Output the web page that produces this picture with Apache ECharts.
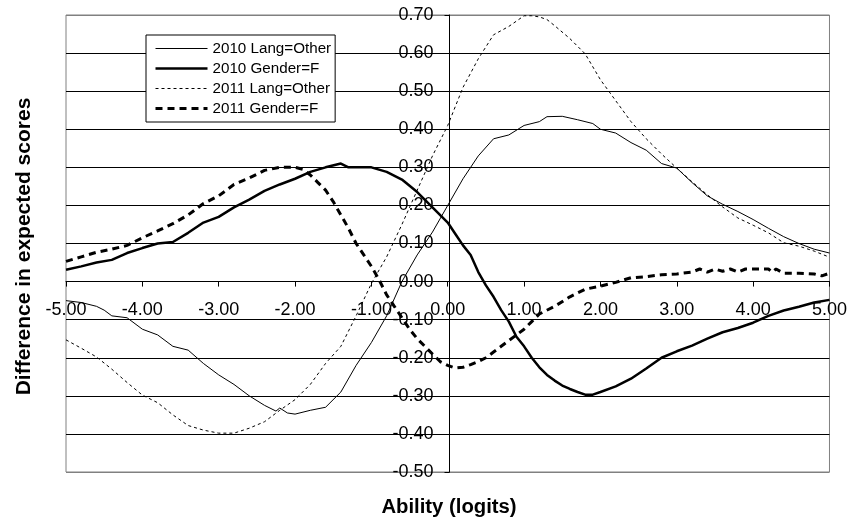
<!DOCTYPE html>
<html>
<head>
<meta charset="utf-8">
<script src="https://cdn.jsdelivr.net/npm/echarts@6/dist/echarts.min.js"></script>
<style>
  html, body { margin: 0; padding: 0; background: #fff; }
  #chart { width: 850px; height: 523px; }
</style>
</head>
<body>
<div id="chart"></div>
<script>
// Difference in expected scores by ability (logits), per group and year

const seriesNames = ['2010 Lang=Other', '2010 Gender=F', '2011 Lang=Other', '2011 Gender=F'];

// 2010 Lang=Other
const ability2010Lang = [-5.0, -4.8, -4.6, -4.5, -4.4, -4.2, -4.0, -3.8, -3.6, -3.4, -3.2, -3.0, -2.8, -2.6, -2.4, -2.25, -2.2, -2.1, -2.0, -1.8, -1.6, -1.4, -1.2, -1.0, -0.8, -0.6, -0.4, -0.2, 0.0, 0.2, 0.4, 0.6, 0.8, 1.0, 1.2, 1.3, 1.5, 1.7, 1.9, 2.0, 2.2, 2.4, 2.6, 2.8, 3.0, 3.2, 3.4, 3.6, 3.8, 4.0, 4.2, 4.4, 4.6, 4.8, 5.0];
const diff2010Lang = [-0.050, -0.055, -0.065, -0.075, -0.090, -0.095, -0.125, -0.140, -0.170, -0.180, -0.215, -0.245, -0.270, -0.300, -0.325, -0.340, -0.332, -0.345, -0.348, -0.338, -0.330, -0.290, -0.220, -0.160, -0.090, 0.000, 0.070, 0.130, 0.200, 0.270, 0.330, 0.375, 0.385, 0.410, 0.420, 0.433, 0.434, 0.425, 0.415, 0.400, 0.390, 0.365, 0.345, 0.310, 0.298, 0.260, 0.225, 0.203, 0.184, 0.163, 0.140, 0.118, 0.100, 0.085, 0.075];

// 2010 Gender=F
const ability2010Gender = [-5.0, -4.8, -4.6, -4.4, -4.2, -4.0, -3.8, -3.6, -3.4, -3.2, -3.0, -2.8, -2.6, -2.4, -2.2, -2.0, -1.8, -1.6, -1.4, -1.3, -1.2, -1.0, -0.8, -0.6, -0.4, -0.2, 0.0, 0.1, 0.2, 0.3, 0.4, 0.5, 0.6, 0.7, 0.8, 0.9, 1.0, 1.1, 1.2, 1.3, 1.4, 1.5, 1.6, 1.7, 1.8, 1.9, 2.0, 2.2, 2.4, 2.6, 2.8, 3.0, 3.2, 3.4, 3.6, 3.8, 4.0, 4.2, 4.4, 4.6, 4.8, 5.0];
const diff2010Gender = [0.031, 0.040, 0.050, 0.057, 0.075, 0.088, 0.100, 0.104, 0.128, 0.155, 0.170, 0.195, 0.215, 0.238, 0.255, 0.270, 0.288, 0.300, 0.310, 0.300, 0.300, 0.300, 0.288, 0.268, 0.235, 0.195, 0.155, 0.125, 0.095, 0.070, 0.025, -0.010, -0.040, -0.075, -0.105, -0.145, -0.170, -0.200, -0.225, -0.245, -0.260, -0.273, -0.282, -0.290, -0.297, -0.297, -0.290, -0.275, -0.255, -0.228, -0.200, -0.183, -0.168, -0.150, -0.133, -0.122, -0.108, -0.090, -0.076, -0.066, -0.055, -0.048];

// 2011 Lang=Other
const ability2011Lang = [-5.0, -4.8, -4.6, -4.4, -4.2, -4.0, -3.8, -3.6, -3.4, -3.2, -3.0, -2.8, -2.6, -2.4, -2.2, -2.0, -1.8, -1.6, -1.4, -1.2, -1.0, -0.8, -0.6, -0.4, -0.2, 0.0, 0.2, 0.4, 0.6, 0.8, 1.0, 1.1, 1.2, 1.3, 1.4, 1.6, 1.8, 2.0, 2.2, 2.4, 2.6, 2.8, 3.0, 3.2, 3.4, 3.6, 3.8, 4.0, 4.2, 4.4, 4.6, 4.8, 5.0];
const diff2011Lang = [-0.153, -0.175, -0.198, -0.230, -0.265, -0.298, -0.318, -0.350, -0.378, -0.390, -0.398, -0.398, -0.385, -0.368, -0.338, -0.310, -0.270, -0.215, -0.170, -0.090, -0.005, 0.065, 0.150, 0.240, 0.330, 0.410, 0.510, 0.585, 0.648, 0.670, 0.698, 0.698, 0.695, 0.688, 0.672, 0.638, 0.598, 0.530, 0.475, 0.420, 0.375, 0.335, 0.298, 0.262, 0.228, 0.196, 0.167, 0.148, 0.128, 0.102, 0.093, 0.080, 0.064];

// 2011 Gender=F
const ability2011Gender = [-5.0, -4.8, -4.6, -4.4, -4.2, -4.0, -3.8, -3.6, -3.4, -3.2, -3.0, -2.8, -2.6, -2.4, -2.2, -2.0, -1.9, -1.8, -1.7, -1.6, -1.5, -1.4, -1.3, -1.2, -1.1, -1.0, -0.9, -0.8, -0.7, -0.6, -0.5, -0.4, -0.3, -0.2, -0.1, 0.0, 0.1, 0.2, 0.3, 0.4, 0.5, 0.6, 0.7, 0.8, 0.9, 1.0, 1.1, 1.2, 1.4, 1.6, 1.8, 2.0, 2.2, 2.4, 2.6, 2.8, 3.0, 3.2, 3.3, 3.4, 3.5, 3.6, 3.7, 3.8, 3.9, 4.0, 4.1, 4.2, 4.25, 4.3, 4.4, 4.6, 4.8, 4.9, 5.0];
const diff2011Gender = [0.053, 0.065, 0.077, 0.085, 0.095, 0.115, 0.133, 0.152, 0.175, 0.205, 0.225, 0.255, 0.272, 0.292, 0.300, 0.300, 0.295, 0.280, 0.260, 0.240, 0.210, 0.175, 0.140, 0.100, 0.070, 0.040, 0.005, -0.035, -0.065, -0.095, -0.125, -0.150, -0.170, -0.190, -0.210, -0.220, -0.227, -0.225, -0.218, -0.210, -0.200, -0.185, -0.170, -0.155, -0.140, -0.125, -0.105, -0.085, -0.065, -0.040, -0.020, -0.012, -0.002, 0.010, 0.013, 0.018, 0.020, 0.025, 0.033, 0.025, 0.033, 0.027, 0.033, 0.025, 0.033, 0.033, 0.033, 0.033, 0.025, 0.033, 0.022, 0.022, 0.020, 0.015, 0.022];

// Axis ranges and tick steps
const abilityMin = -5, abilityMax = 5, abilityStep = 1;
const diffMin = -0.5, diffMax = 0.7, diffStep = 0.1;

const zip = (xs, ys) => xs.map((x, i) => [x, ys[i]]);

const font = '"Liberation Sans", Arial, sans-serif';

// Line looks shared by the plotted series and their legend keys
const lineStyles = [
  { color: '#000', width: 1, type: 'solid' },
  { color: '#000', width: 2.5, type: 'solid' },
  { color: '#000', width: 1, type: [3, 3] },
  { color: '#000', width: 3, type: [7, 5] }
];

// Plot box
const W = 850, H = 523;
const gridLeft = 66, gridRight = 17, gridTop = 15, gridBottom = 51;
const plotW = W - gridLeft - gridRight;
const plotH = H - gridTop - gridBottom;

// The axes cross at the origin: shift each one from its edge to the zero line
const yAxisShift = -plotW * (0 - abilityMin) / (abilityMax - abilityMin);
const xAxisShift = -plotH * (0 - diffMin) / (diffMax - diffMin);

// gridline colours: grey on the plot border, black inside
const splitColors = ['#808080'];
for (let i = 0; i < 11; i++) splitColors.push('#000000');
splitColors.push('#808080');

const chart = echarts.init(document.getElementById('chart'), null, { renderer: 'canvas' });

const lineBase = { type: 'line', symbol: 'none', showSymbol: false, smooth: false, animation: false };

const seriesData = [
  zip(ability2010Lang, diff2010Lang),
  zip(ability2010Gender, diff2010Gender),
  zip(ability2011Lang, diff2011Lang),
  zip(ability2011Gender, diff2011Gender)
];

chart.setOption({
  backgroundColor: '#ffffff',
  animation: false,
  grid: {
    left: gridLeft, right: gridRight, top: gridTop, bottom: gridBottom,
    show: true, borderColor: '#808080', borderWidth: 1, backgroundColor: 'transparent'
  },
  legend: {
    orient: 'vertical',
    left: 146, top: 35,
    padding: [6, 4, 6, 8],
    itemWidth: 52, itemHeight: 14, itemGap: 5,
    backgroundColor: '#ffffff',
    borderColor: '#000000', borderWidth: 1,
    itemStyle: { opacity: 0 },
    textStyle: { fontFamily: font, fontSize: 15.2, color: '#000' },
    data: seriesNames.map((name, i) => ({ name: name, lineStyle: lineStyles[i] }))
  },
  xAxis: {
    type: 'value',
    position: 'bottom',
    offset: xAxisShift,
    min: abilityMin, max: abilityMax, interval: abilityStep,
    axisLine: { show: true, onZero: false, lineStyle: { color: '#000', width: 1 } },
    axisTick: { show: true, length: 5, lineStyle: { color: '#000' } },
    axisLabel: {
      margin: 19,
      fontFamily: font, fontSize: 18, color: '#000',
      formatter: v => v.toFixed(2)
    },
    splitLine: { show: false }
  },
  yAxis: {
    type: 'value',
    position: 'left',
    offset: yAxisShift,
    min: diffMin, max: diffMax, interval: diffStep,
    axisLine: { show: true, onZero: false, lineStyle: { color: '#000', width: 1 } },
    axisTick: { show: true, length: 5, lineStyle: { color: '#000' } },
    axisLabel: {
      margin: 16,
      fontFamily: font, fontSize: 18, color: '#000',
      formatter: v => v.toFixed(2)
    },
    splitLine: { show: true, lineStyle: { color: splitColors, width: 1 } }
  },
  graphic: [
    {
      type: 'text', x: 449, y: 507.5,
      style: { text: 'Ability (logits)', fontFamily: font, fontSize: 20.3, fontWeight: 'bold', fill: '#000', align: 'center', verticalAlign: 'middle' }
    },
    {
      type: 'text', rotation: Math.PI / 2, x: 24, y: 246.5,
      style: { text: 'Difference in expected scores', fontFamily: font, fontSize: 21, fontWeight: 'bold', fill: '#000', align: 'center', verticalAlign: 'middle' }
    }
  ],
  series: seriesNames.map((name, i) => Object.assign({}, lineBase, {
    name: name,
    data: seriesData[i],
    lineStyle: lineStyles[i],
    itemStyle: { color: '#000' }
  }))
});
</script>
</body>
</html>
